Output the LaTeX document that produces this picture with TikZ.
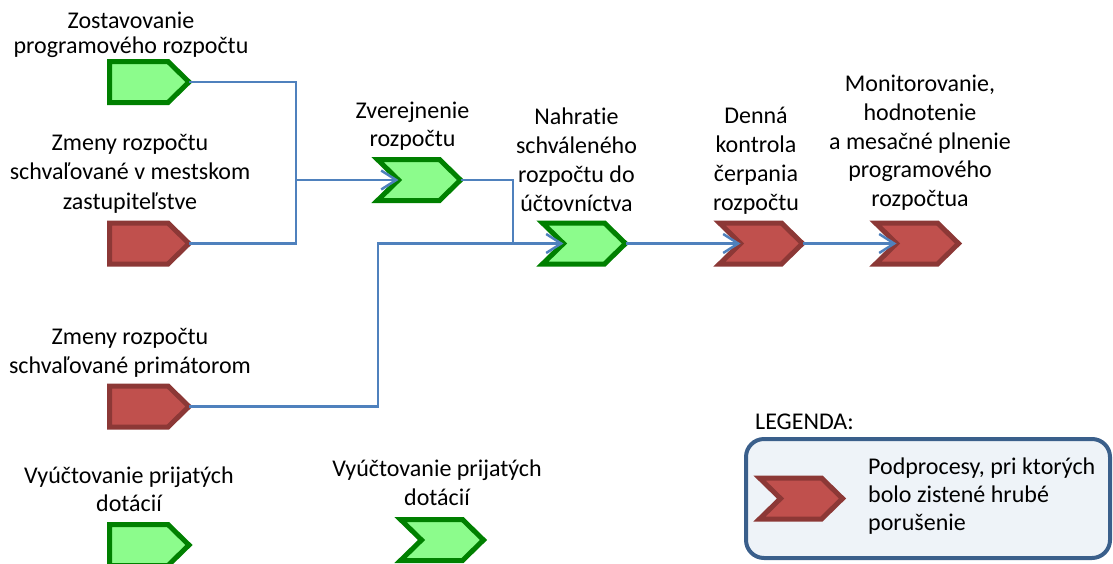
\documentclass[tikz,border=0pt]{standalone}
\usepackage{fontspec}
\setmainfont[Ligatures=NoCommon]{Carlito}
\usetikzlibrary{arrows.meta}
\definecolor{gfill}{HTML}{8CFC8C}
\definecolor{gline}{HTML}{008000}
\definecolor{rfill}{HTML}{C0504D}
\definecolor{rline}{HTML}{8C3836}
\definecolor{conn}{HTML}{4F81BD}
\definecolor{legline}{HTML}{3A5F8B}
\definecolor{legfill}{HTML}{EEF3F8}
\newcommand\homeplate[4]{%
  \draw[#4] (#2,#3-20.5) -- ++(58.5,0) -- ++(21,20.5) -- ++(-21,20.5) -- ++(-58.5,0) -- cycle;
  \coordinate (#1) at (#2+79.5,#3);}
\newcommand\chevron[4]{%
  \draw[#4] (#2,#3-20.5) -- ++(62,0) -- ++(21,20.5) -- ++(-21,20.5) -- ++(-62,0) -- ++(21,-20.5) -- cycle;
  \coordinate (#1-in) at (#2+21,#3);
  \coordinate (#1-out) at (#2+83,#3);}
\tikzset{
  okshape/.style={draw=gline, fill=gfill, line width=5pt},
  badshape/.style={draw=rline, fill=rfill, line width=5pt},
  conn/.style={draw=conn, line width=2.5pt},
  arr/.style={conn, -{Straight Barb[length=15pt,width=19pt]}},
  lbl/.style={anchor=base, inner sep=0pt, align=center, font=\fontsize{24}{29}\selectfont},
  legbox/.style={draw=legline, fill=legfill, line width=4pt, rounded corners=18pt},
}
\begin{document}
\begin{tikzpicture}[x=1pt,y=-1pt]
\useasboundingbox (0,0) rectangle (1113,563);
\clip (0,0) rectangle (1113,563);
% shapes
\homeplate{h1}{109.5}{82}{okshape}
\homeplate{h2}{109.5}{243.5}{badshape}
\homeplate{h3}{109.5}{406.5}{badshape}
\homeplate{h4}{109.5}{545}{okshape}
\chevron{zv}{377.5}{180}{okshape}
\chevron{nah}{542.5}{243.5}{okshape}
\chevron{den}{719.5}{243.5}{badshape}
\chevron{mon}{875.5}{243.5}{badshape}
\chevron{vy}{400.5}{540}{okshape}
% legend
\node (legend) [legbox, minimum width=364pt, minimum height=119pt, anchor=north west] at (744,437) {};
\chevron{leg}{759.5}{498.5}{badshape}
% connectors
\coordinate (jA) at (296,180);
\coordinate (jB) at (513,243.5);
\coordinate (jC) at (378,243.5);
\draw[conn] (h1) -| (jA) |- (h2);
\draw[arr] (jA) -- (zv-in);
\draw[conn] (zv-out) -| (jB);
\draw[arr] (h3) -| (jC) -- (nah-in);
\draw[arr] (nah-out) -- (den-in);
\draw[arr] (den-out) -- (mon-in);
% labels (anchored at the baseline of the last line)
\node (t1) [lbl, font=\fontsize{24}{25}\selectfont] at (131,53.3) {Zostavovanie\\programového rozpočtu};
\node (t2) [lbl, font=\fontsize{24}{29.5}\selectfont] at (130,209.3) {Zmeny rozpočtu\\schvaľované v mestskom\\zastupiteľstve};
\node (t3) [lbl, font=\fontsize{24}{28.5}\selectfont] at (130,373.3) {Zmeny rozpočtu\\schvaľované primátorom};
\node (t4) [lbl, font=\fontsize{24}{28.5}\selectfont] at (129,511.7) {Vyúčtovanie prijatých\\dotácií};
\node (t5) [lbl, font=\fontsize{24}{28.5}\selectfont] at (412.5,146.7) {Zverejnenie\\rozpočtu};
\node (t6) [lbl] at (576.5,211.7) {Nahratie\\schváleného\\rozpočtu do\\účtovníctva};
\node (t7) [lbl, font=\fontsize{24}{29}\selectfont] at (756,210) {Denná\\kontrola\\čerpania\\rozpočtu};
\node (t8) [lbl, font=\fontsize{24}{28.8}\selectfont] at (920,206.7) {Monitorovanie,\\hodnotenie\\a mesačné plnenie\\programového\\rozpočtua};
\node (t9) [lbl, font=\fontsize{24}{28.5}\selectfont] at (437,505) {Vyúčtovanie prijatých\\dotácií};
\node (t10) [lbl, anchor=base west] at (755,429) {LEGENDA:};
\node (t11) [lbl, anchor=base west, align=left, font=\fontsize{24}{28}\selectfont] at (868,530) {Podprocesy, pri ktorých\\bolo zistené hrubé\\porušenie};
\end{tikzpicture}
\end{document}
